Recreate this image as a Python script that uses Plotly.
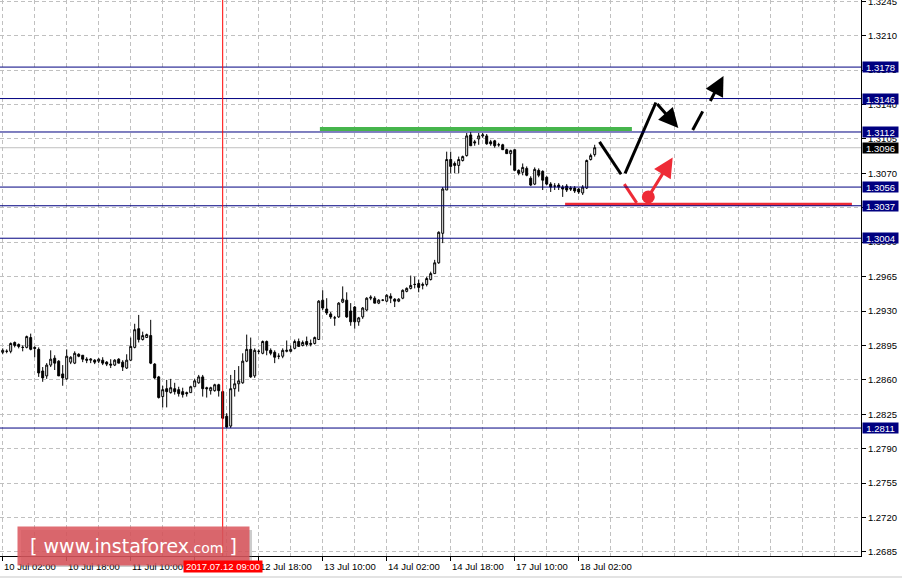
import plotly.graph_objects as go

# ---------------- data (GBPUSD H1) ----------------
opens = [1.2888,1.2889,1.2889,1.2898,1.2896,1.2893,1.2893,1.2903,1.2893,1.2891,
         1.2869,1.2864,1.2875,1.2882,1.2879,1.2866,1.2861,1.2878,1.2877,1.2886,
         1.2885,1.2881,1.2880,1.2880,1.2879,1.2880,1.2878,1.2876,1.2875,1.2881,
         1.2878,1.2872,1.2880,1.2893,1.2912,1.2901,1.2903,1.2905,1.2876,1.2863,
         1.2843,1.2851,1.2847,1.2851,1.2850,1.2848,1.2847,1.2847,1.2853,1.2857,
         1.2863,1.2852,1.2849,1.2849,1.2855,1.2848,1.2823,1.2813,1.2851,1.2856,
         1.2857,1.2879,1.2891,1.2864,1.2889,1.2887,1.2899,1.2890,1.2888,1.2884,
         1.2884,1.2889,1.2889,1.2892,1.2899,1.2895,1.2899,1.2896,1.2897,1.2901,
         1.2941,1.2932,1.2927,1.2923,1.2924,1.2939,1.2941,1.2930,1.2934,1.2919,
         1.2924,1.2931,1.2943,1.2943,1.2938,1.2941,1.2940,1.2945,1.2942,1.2940,
         1.2943,1.2950,1.2953,1.2957,1.2958,1.2956,1.2957,1.2962,1.2968,1.2979,
         1.3009,1.3053,1.3084,1.3080,1.3078,1.3083,1.3088,1.3109,1.3102,1.3105,
         1.3108,1.3108,1.3102,1.3103,1.3099,1.3099,1.3094,1.3090,1.3094,1.3073,
         1.3071,1.3075,1.3065,1.3059,1.3073,1.3072,1.3066,1.3059,1.3057,1.3058,
         1.3056,1.3057,1.3055,1.3055,1.3054,1.3050,1.3055,1.3084,1.3089]
highs = [1.2892,1.2891,1.2898,1.2899,1.2897,1.2895,1.2905,1.2907,1.2894,1.2893,
         1.2873,1.2877,1.2890,1.2885,1.2880,1.2875,1.2891,1.2884,1.2889,1.2887,
         1.2885,1.2883,1.2882,1.2881,1.2882,1.2883,1.2879,1.2881,1.2881,1.2882,
         1.2880,1.2886,1.2903,1.2917,1.2926,1.2909,1.2907,1.2921,1.2877,1.2864,
         1.2854,1.2860,1.2861,1.2857,1.2853,1.2852,1.2848,1.2854,1.2861,1.2865,
         1.2865,1.2853,1.2853,1.2856,1.2856,1.2849,1.2826,1.2865,1.2870,1.2874,
         1.2887,1.2906,1.2903,1.2892,1.2891,1.2900,1.2900,1.2892,1.2890,1.2887,
         1.2892,1.2900,1.2895,1.2901,1.2902,1.2900,1.2904,1.2901,1.2904,1.2941,
         1.2951,1.2943,1.2929,1.2925,1.2939,1.2955,1.2949,1.2938,1.2935,1.2924,
         1.2934,1.2944,1.2946,1.2945,1.2942,1.2942,1.2947,1.2948,1.2943,1.2943,
         1.2952,1.2954,1.2966,1.2965,1.2962,1.2959,1.2965,1.2970,1.2982,1.3011,
         1.3056,1.3092,1.3092,1.3082,1.3087,1.3088,1.3111,1.3112,1.3104,1.3111,
         1.3111,1.3110,1.3104,1.3104,1.3101,1.3100,1.3095,1.3094,1.3094,1.3074,
         1.3080,1.3077,1.3067,1.3076,1.3075,1.3073,1.3067,1.3061,1.3060,1.3060,
         1.3058,1.3059,1.3057,1.3057,1.3055,1.3058,1.3084,1.3090,1.3099]
lows  = [1.2886,1.2887,1.2887,1.2893,1.2892,1.2889,1.2892,1.2890,1.2883,1.2863,
         1.2858,1.2861,1.2873,1.2870,1.2864,1.2854,1.2860,1.2876,1.2876,1.2883,
         1.2878,1.2877,1.2877,1.2876,1.2877,1.2875,1.2874,1.2872,1.2874,1.2877,
         1.2869,1.2871,1.2879,1.2892,1.2898,1.2900,1.2903,1.2876,1.2861,1.2841,
         1.2832,1.2832,1.2846,1.2845,1.2843,1.2842,1.2843,1.2847,1.2853,1.2856,
         1.2843,1.2842,1.2845,1.2848,1.2843,1.2820,1.2811,1.2811,1.2843,1.2848,
         1.2856,1.2878,1.2862,1.2862,1.2886,1.2886,1.2885,1.2885,1.2877,1.2881,
         1.2882,1.2888,1.2888,1.2891,1.2894,1.2894,1.2894,1.2894,1.2896,1.2901,
         1.2931,1.2926,1.2922,1.2915,1.2923,1.2938,1.2923,1.2915,1.2912,1.2915,
         1.2922,1.2930,1.2941,1.2938,1.2937,1.2940,1.2939,1.2938,1.2934,1.2939,
         1.2942,1.2949,1.2952,1.2953,1.2949,1.2952,1.2955,1.2961,1.2968,1.2978,
         1.2999,1.3053,1.3070,1.3070,1.3070,1.3082,1.3087,1.3098,1.3098,1.3099,
         1.3106,1.3099,1.3098,1.3096,1.3097,1.3094,1.3090,1.3078,1.3073,1.3068,
         1.3068,1.3067,1.3057,1.3058,1.3066,1.3053,1.3058,1.3051,1.3053,1.3053,
         1.3046,1.3051,1.3052,1.3050,1.3049,1.3048,1.3054,1.3083,1.3087]
closes = [1.2890,1.2889,1.2897,1.2895,1.2894,1.2893,1.2904,1.2891,1.2892,1.2867,
          1.2862,1.2875,1.2881,1.2877,1.2864,1.2862,1.2884,1.2883,1.2887,1.2884,
          1.2881,1.2880,1.2881,1.2878,1.2881,1.2877,1.2876,1.2875,1.2880,1.2877,
          1.2873,1.2880,1.2894,1.2911,1.2901,1.2905,1.2906,1.2877,1.2862,1.2842,
          1.2850,1.2848,1.2852,1.2848,1.2846,1.2845,1.2846,1.2853,1.2859,1.2863,
          1.2851,1.2851,1.2852,1.2855,1.2849,1.2821,1.2812,1.2851,1.2856,1.2859,
          1.2879,1.2891,1.2863,1.2890,1.2889,1.2899,1.2890,1.2887,1.2883,1.2884,
          1.2890,1.2890,1.2891,1.2899,1.2894,1.2898,1.2896,1.2897,1.2903,1.2940,
          1.2933,1.2928,1.2924,1.2923,1.2938,1.2942,1.2924,1.2919,1.2919,1.2923,
          1.2933,1.2943,1.2944,1.2938,1.2941,1.2941,1.2946,1.2943,1.2940,1.2942,
          1.2951,1.2953,1.2956,1.2957,1.2954,1.2957,1.2963,1.2968,1.2979,1.3010,
          1.3054,1.3084,1.3077,1.3078,1.3084,1.3087,1.3108,1.3098,1.3101,1.3108,
          1.3109,1.3100,1.3100,1.3098,1.3099,1.3094,1.3090,1.3093,1.3073,1.3070,
          1.3076,1.3068,1.3058,1.3074,1.3068,1.3063,1.3059,1.3056,1.3057,1.3056,
          1.3054,1.3053,1.3054,1.3052,1.3051,1.3056,1.3083,1.3088,1.3096]
candle_idx = list(range(len(opens)))

tick_idx = [0, 16, 32, 48, 64, 80, 96, 112, 128, 144]
tick_text = ["10 Jul 02:00", "10 Jul 18:00", "11 Jul 10:00", "12 Jul 02:00", "12 Jul 18:00",
             "13 Jul 10:00", "14 Jul 02:00", "14 Jul 18:00", "17 Jul 10:00", "18 Jul 02:00"]
price_ticks = [1.2685, 1.2720, 1.2755, 1.2790, 1.2825, 1.2860, 1.2895, 1.2930, 1.2965,
               1.3000, 1.3035, 1.3070, 1.3105, 1.3140, 1.3175, 1.3210, 1.3245]

levels = [1.3178, 1.3146, 1.3112, 1.3056, 1.3037, 1.3004, 1.2811]
bid_price = 1.3096
marker_idx = 55
marker_text = "2017.07.12 09:00"

resistance_x = [79.3, 157.3]
resistance_y = [1.3115, 1.3115]
support_x = [140.6, 212.3]
support_y = [1.30385, 1.30385]

path_x = [149.2, 154.6]
path_y = [1.3102, 1.3069]
path2_x = [155.6, 163.3]
path2_y = [1.3070, 1.3142]
arrow1 = dict(tail=(163.3, 1.3142), head=(168.9, 1.3116))
dash_x = [172.5, 175.0]
dash_y = [1.3114, 1.3133]
arrow2 = dict(tail=(176.7, 1.3142), head=(180.2, 1.3169))

red_seg_x = [155.4, 158.5]
red_seg_y = [1.3059, 1.3040]
red_dot = (161.4, 1.3046)
red_arrow_head = (167.5, 1.3086)

# ---------------- figure ----------------
FONT = "Liberation Sans"
PLOT_W, PLOT_H = 861, 556
fig = go.Figure()
fig.add_trace(go.Candlestick(
    x=candle_idx, open=opens, high=highs, low=lows, close=closes,
    increasing=dict(line=dict(color="black", width=1), fillcolor="white"),
    decreasing=dict(line=dict(color="black", width=1), fillcolor="black"),
    whiskerwidth=0, hoverinfo="skip", showlegend=False))

GREEN = "#46b54c"
RED = "#ee2b36"
fig.add_trace(go.Scatter(x=resistance_x, y=resistance_y, mode="lines",
                         line=dict(color=GREEN, width=4), hoverinfo="skip"))
fig.add_trace(go.Scatter(x=support_x, y=support_y, mode="lines",
                         line=dict(color=RED, width=3), hoverinfo="skip"))
fig.add_trace(go.Scatter(x=path_x, y=path_y, mode="lines",
                         line=dict(color="black", width=3), hoverinfo="skip"))
fig.add_trace(go.Scatter(x=path2_x, y=path2_y, mode="lines",
                         line=dict(color="black", width=3), hoverinfo="skip"))
fig.add_trace(go.Scatter(x=dash_x, y=dash_y, mode="lines",
                         line=dict(color="black", width=3), hoverinfo="skip"))
fig.add_trace(go.Scatter(x=red_seg_x, y=red_seg_y, mode="lines",
                         line=dict(color=RED, width=3), hoverinfo="skip"))
fig.add_trace(go.Scatter(x=[red_dot[0]], y=[red_dot[1]], mode="markers",
                         marker=dict(color=RED, size=13), hoverinfo="skip"))

shapes = []
shapes.append(dict(type="line", xref="paper", x0=0, x1=1, yref="y", y0=bid_price, y1=bid_price,
                   line=dict(color="#c0c0c0", width=1), layer="between"))
for lv in levels:
    shapes.append(dict(type="line", xref="paper", x0=0, x1=1, yref="y", y0=lv, y1=lv,
                       line=dict(color="#000080", width=1), layer="above"))
shapes.append(dict(type="line", xref="x", x0=marker_idx, x1=marker_idx, yref="paper", y0=0, y1=1,
                   line=dict(color="#ff0000", width=1), layer="above"))
# watermark shadow
shapes.append(dict(type="rect", xref="paper", yref="paper",
                   x0=21 / PLOT_W, x1=252 / PLOT_W, y0=(PLOT_H - 567) / PLOT_H, y1=(PLOT_H - 530) / PLOT_H,
                   fillcolor="rgba(110,110,110,0.35)", line=dict(width=0), layer="above"))
# window bottom border
shapes.append(dict(type="line", xref="paper", yref="paper", x0=0, x1=902 / PLOT_W,
                   y0=(PLOT_H - 577) / PLOT_H, y1=(PLOT_H - 577) / PLOT_H,
                   line=dict(color="#e3e3e3", width=2), layer="above"))

annotations = []
for t, lab in zip(tick_idx, tick_text):
    annotations.append(dict(x=t, xref="x", y=0, yref="paper", yanchor="top", xanchor="left",
                            yshift=-3, xshift=-1, text=lab, showarrow=False,
                            font=dict(family=FONT, size=9.5, color="black")))
for lv in levels:
    annotations.append(dict(x=1, xref="paper", xanchor="left", xshift=1, y=lv, yref="y",
                            text=f"{lv:.4f}", showarrow=False, bgcolor="#000080",
                            width=35, height=10, borderpad=0,
                            font=dict(family=FONT, size=9.5, color="white")))
annotations.append(dict(x=1, xref="paper", xanchor="left", xshift=1, y=bid_price, yref="y",
                        text=f"{bid_price:.4f}", showarrow=False, bgcolor="black",
                        width=35, height=10, borderpad=0,
                        font=dict(family=FONT, size=9.5, color="white")))
for a, col in ((arrow1, "black"), (arrow2, "black")):
    annotations.append(dict(x=a["head"][0], y=a["head"][1], xref="x", yref="y",
                            ax=a["tail"][0], ay=a["tail"][1], axref="x", ayref="y",
                            text="", showarrow=True, arrowhead=2, arrowsize=1.3,
                            arrowwidth=3, arrowcolor=col, standoff=0))
annotations.append(dict(x=red_arrow_head[0], y=red_arrow_head[1], xref="x", yref="y",
                        ax=red_dot[0], ay=red_dot[1], axref="x", ayref="y",
                        text="", showarrow=True, arrowhead=2, arrowsize=1.3,
                        arrowwidth=3, arrowcolor=RED, standoff=0))
# watermark
annotations.append(dict(x=17 / PLOT_W, xref="paper", xanchor="left", y=(PLOT_H - 526) / PLOT_H,
                        yref="paper", yanchor="top", width=231, height=38, borderpad=0,
                        text="[ www.instaforex<span style='font-size:14px'>.com</span> ]",
                        showarrow=False, bgcolor="rgba(218,84,90,0.85)",
                        font=dict(family="DejaVu Sans", size=19, color="white")))
annotations.append(dict(x=marker_idx, xref="x", y=0, yref="paper", yanchor="top", xanchor="center",
                        yshift=-4, text=marker_text, showarrow=False, bgcolor="#ff0000",
                        width=78, height=11, borderpad=0,
                        font=dict(family=FONT, size=9.5, color="white")))

x_range = [-0.675, 214.575]
y_range = [1.26809, 1.32462]

fig.update_layout(
    width=902, height=578,
    margin=dict(l=0, r=41, t=0, b=22, autoexpand=False),
    plot_bgcolor="white", paper_bgcolor="white",
    showlegend=False, shapes=shapes, annotations=annotations,
    xaxis=dict(range=x_range, rangeslider=dict(visible=False), tickmode="array",
               tickvals=tick_idx, ticktext=[""] * len(tick_idx), ticks="outside",
               ticklen=4, tickcolor="black", showticklabels=False, automargin=False,
               showline=True, linecolor="black", linewidth=1, zeroline=False,
               showgrid=True, gridcolor="#c0c0c0", griddash="4px,3px",
               minor=dict(tick0=0, dtick=8, showgrid=True, gridcolor="#c0c0c0",
                          griddash="4px,3px", ticks="")),
    yaxis=dict(range=y_range, side="right", tickmode="array", tickvals=price_ticks,
               tickformat=".4f", ticks="outside", ticklen=4, tickcolor="black",
               showline=True, linecolor="black", linewidth=1, zeroline=False,
               showgrid=True, gridcolor="#c0c0c0", griddash="4px,3px",
               ticklabeloverflow="allow", automargin=False,
               tickfont=dict(family=FONT, size=9.5, color="black")),
)

fig.write_html("out.html", config={"displayModeBar": False},
               post_script="document.body.style.margin='0';document.body.style.overflow='hidden';")
